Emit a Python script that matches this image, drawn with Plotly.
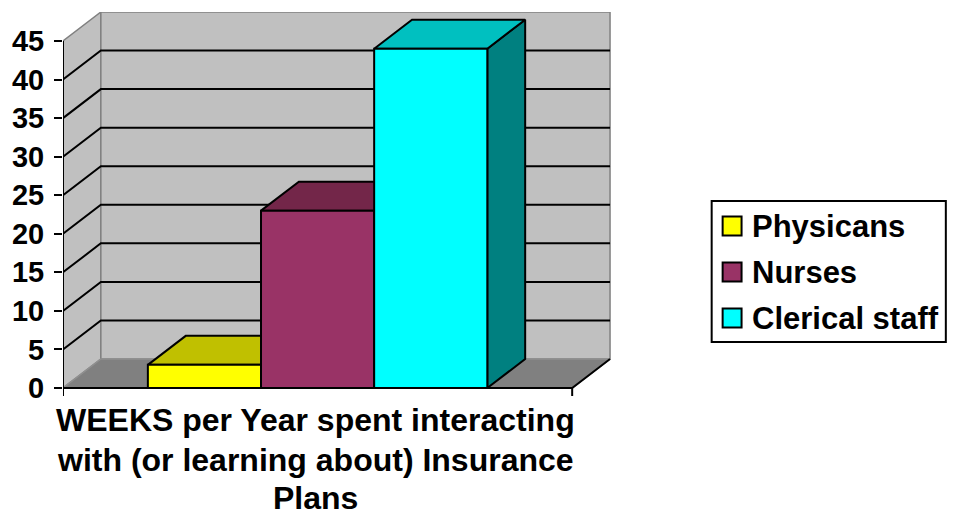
import plotly.graph_objects as go

# ---------------- data ----------------
category = "WEEKS per Year spent interacting with (or learning about) Insurance Plans"
category_lines = ["WEEKS per Year spent interacting", "with (or learning about) Insurance", "Plans"]
series = ["Physicans", "Nurses", "Clerical staff"]
values = [3, 23, 44]
tick_values = [0, 5, 10, 15, 20, 25, 30, 35, 40, 45]

# ---------------- style ----------------
front_colors = ["#FFFF00", "#993366", "#00FFFF"]
top_colors = ["#C0C000", "#732649", "#00C0C0"]
side_colors = ["#C0C000", "#732649", "#008080"]
FONT = "Liberation Sans, Arial, sans-serif"

W, H = 960, 518
L, R, T, B = 61, 340, 12, 120
front_w_px = 511.0            # width of the front plane (one category)
unit_px = 347.0 / 45.0        # pixels per value unit
depth_px = (38.0, 29.0)       # 3-D depth offset in pixels
zero_px = 388.0               # screen y of value 0

plot_w = W - L - R
plot_h = H - T - B
xmax = plot_w / front_w_px
ymin = -((H - B) - zero_px) / unit_px
ymax = (zero_px - T) / unit_px
DX = depth_px[0] / front_w_px
DY = depth_px[1] / unit_px
vmax = max(tick_values)

gap_width = 1.5
n = len(series)
bw = 1.0 / (n + gap_width)
x_start = gap_width * bw / 2

fig = go.Figure()


def poly(xs, ys, fill, line_color, lw=2):
    fig.add_trace(go.Scatter(
        x=list(xs) + [xs[0]], y=list(ys) + [ys[0]], mode="lines", fill="toself",
        fillcolor=fill, line=dict(color=line_color, width=lw),
        hoverinfo="skip", showlegend=False))


def line(xs, ys, color, lw=2):
    fig.add_trace(go.Scatter(x=xs, y=ys, mode="lines", line=dict(color=color, width=lw),
                             hoverinfo="skip", showlegend=False))


# walls
poly([0, DX, DX, 0], [0, DY, vmax + DY, vmax], "#C0C0C0", "#808080", 1.5)
poly([DX, 1 + DX, 1 + DX, DX], [DY, DY, vmax + DY, vmax + DY], "#C0C0C0", "#808080", 1.5)
poly([0, 1, 1 + DX, DX], [0, 0, DY, DY], "#808080", "#909090", 1.5)

# gridlines
gx, gy = [], []
for v in tick_values:
    if v == 0 or v == vmax:
        continue
    gx += [0, DX, 1 + DX, None]
    gy += [v, v + DY, v + DY, None]
line(gx, gy, "#000000", 2)

# bars
for i, (name, v) in enumerate(zip(series, values)):
    x0 = x_start + i * bw
    x1 = x0 + bw
    poly([x1, x1 + DX, x1 + DX, x1], [0, DY, v + DY, v], side_colors[i], "#000000")
    poly([x0, x1, x1 + DX, x0 + DX], [v, v, v + DY, v + DY], top_colors[i], "#000000")
    poly([x0, x1, x1, x0], [0, 0, v, v], front_colors[i], "#000000")

# front floor edges and axis
line([0, 1, 1 + DX], [0, 0, DY], "#000000", 2)
tick_len = 8 / unit_px
line([0, 0], [-tick_len, vmax], "#000000", 2)
line([1, 1], [-tick_len, 0], "#000000", 2)

fig.update_xaxes(range=[0, xmax], showgrid=False, zeroline=False, showline=False,
                 showticklabels=False, ticks="", fixedrange=True)
fig.update_yaxes(range=[ymin, ymax], showgrid=False, zeroline=False, showline=False,
                 tickmode="array", tickvals=tick_values, ticktext=[str(t) for t in tick_values],
                 ticks="outside", ticklen=8, tickwidth=2, tickcolor="#000000",
                 ticklabelstandoff=4,
                 tickfont=dict(family=FONT, size=29, color="#000000", weight="bold"))


def px2paper_x(px):
    return (px - L) / plot_w


def px2paper_y(py):
    return ((H - B) - py) / plot_h


# category label, one annotation per line
line_centers = [420, 460, 498]
for txt, cy in zip(category_lines, line_centers):
    fig.add_annotation(x=px2paper_x(314), xref="paper", y=px2paper_y(cy), yref="paper",
                       yanchor="middle", xanchor="center", text=txt, showarrow=False,
                       borderpad=0,
                       font=dict(family=FONT, size=32, color="#000000", weight="bold"))

# legend (drawn manually)
fig.add_shape(type="rect", xref="paper", yref="paper",
              x0=px2paper_x(712), x1=px2paper_x(947), y0=px2paper_y(342), y1=px2paper_y(201),
              line=dict(color="#000000", width=2), fillcolor="#FFFFFF")
row_y = [226, 272, 318]
for i, name in enumerate(series):
    cy = row_y[i]
    fig.add_shape(type="rect", xref="paper", yref="paper",
                  x0=px2paper_x(723), x1=px2paper_x(742),
                  y0=px2paper_y(cy + 9.5), y1=px2paper_y(cy - 9.5),
                  line=dict(color="#000000", width=2), fillcolor=front_colors[i])
    fig.add_annotation(x=px2paper_x(750), xref="paper", y=px2paper_y(cy), yref="paper",
                       xanchor="left", yanchor="middle", text=name, showarrow=False,
                       font=dict(family=FONT, size=31, color="#000000", weight="bold"))

fig.update_layout(width=W, height=H, margin=dict(l=L, r=R, t=T, b=B, pad=0),
                  paper_bgcolor="#FFFFFF", plot_bgcolor="#FFFFFF", showlegend=False)

fig.write_html("out.html")
